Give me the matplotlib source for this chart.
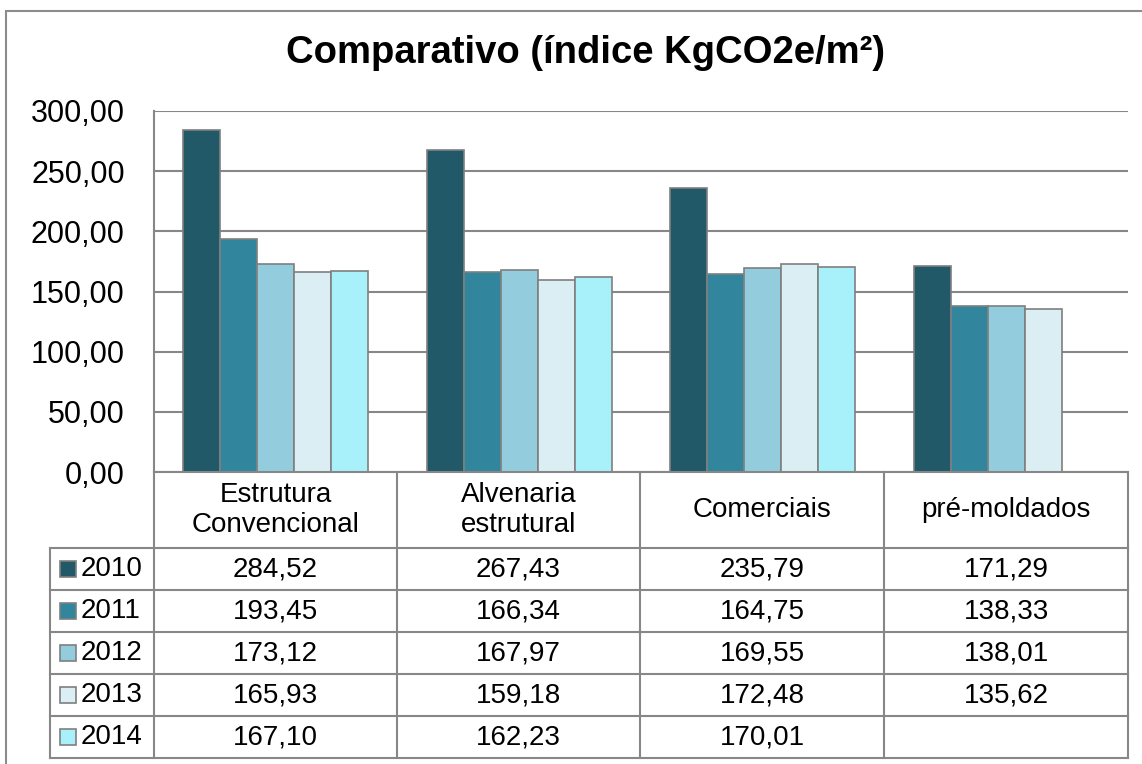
import numpy as np
import matplotlib
matplotlib.use("Agg")
import matplotlib.pyplot as plt
from matplotlib.lines import Line2D
from matplotlib.patches import Rectangle

# ---------------------------------------------------------------------------
# Donnees
# ---------------------------------------------------------------------------
categories = ["Estrutura\nConvencional", "Alvenaria\nestrutural", "Comerciais", "pré-moldados"]
years = ["2010", "2011", "2012", "2013", "2014"]
v2010 = [284.52, 267.43, 235.79, 171.29]
v2011 = [193.45, 166.34, 164.75, 138.33]
v2012 = [173.12, 167.97, 169.55, 138.01]
v2013 = [165.93, 159.18, 172.48, 135.62]
v2014 = [167.10, 162.23, 170.01, np.nan]
series = [v2010, v2011, v2012, v2013, v2014]
colors = ["#215968", "#31859C", "#93CDDD", "#DAEEF3", "#A9F1FA"]
yticks = [0, 50, 100, 150, 200, 250, 300]

W, H = 1142, 764
plt.rcParams["font.family"] = ["Liberation Sans", "DejaVu Sans"]

fig = plt.figure(figsize=(W / 100, H / 100), dpi=100)

def fx(x):
    return x / W

def fy(y):
    return 1 - y / H

GRID = "#878787"
EDGE = "#7F7F7F"

# cadre exterieur (seuls les bords gauche et haut sont visibles)
fig.add_artist(Rectangle((fx(6), fy(H + 20)), fx(W + 20), fy(11) - fy(H + 20),
                         transform=fig.transFigure, fill=False, ec="#8c8c8c", lw=1.5))

fig.text(fx(585), fy(53), "Comparativo (índice KgCO2e/m²)", ha="center", va="center",
         fontsize=27.5, fontweight="bold")

# ---------------------------------------------------------------------------
# Graphique
# ---------------------------------------------------------------------------
left, right, top, bottom = 154, 1128, 111, 472
ax = fig.add_axes([fx(left), fy(bottom), fx(right - left), fy(top) - fy(bottom)])
bw = 0.152
x = np.arange(len(categories))
for j, (vals, c) in enumerate(zip(series, colors)):
    vals = np.array(vals, dtype=float)
    ok = ~np.isnan(vals)
    ax.bar(x[ok] + (j - 2) * bw, vals[ok], width=bw, color=c, edgecolor=EDGE,
           linewidth=1.2, zorder=3)

ax.set_xlim(-0.5, len(categories) - 0.5)
ax.set_ylim(0, 300)
ax.set_yticks(yticks)
ax.set_yticklabels([f"{v:.2f}".replace(".", ",") for v in yticks], fontsize=22)
ax.tick_params(axis="y", length=0, pad=21)
ax.set_xticks([])
ax.yaxis.grid(True, color=GRID, lw=1.5, zorder=0)
for s in ["top", "right", "bottom"]:
    ax.spines[s].set_visible(False)
ax.spines["left"].set_color(GRID)
ax.spines["left"].set_linewidth(1.5)

# ---------------------------------------------------------------------------
# Tableau de donnees
# ---------------------------------------------------------------------------
col_x = [154, 397, 640, 884, 1128]
row_y = [472, 548, 590, 632, 674, 716, 758]
tab_left = 50

def hline(x0, x1, y):
    fig.add_artist(Line2D([fx(x0), fx(x1)], [fy(y), fy(y)], transform=fig.transFigure,
                          color=GRID, lw=1.5))

def vline(x, y0, y1):
    fig.add_artist(Line2D([fx(x), fx(x)], [fy(y0), fy(y1)], transform=fig.transFigure,
                          color=GRID, lw=1.5))

hline(col_x[0], col_x[-1], row_y[0])
for y in row_y[1:]:
    hline(tab_left, col_x[-1], y)
for xc in col_x:
    vline(xc, row_y[0], row_y[-1])
vline(tab_left, row_y[1], row_y[-1])

for i, cat in enumerate(categories):
    cx = (col_x[i] + col_x[i + 1]) / 2
    fig.text(fx(cx), fy((row_y[0] + row_y[1]) / 2), cat, ha="center", va="center",
             fontsize=20, linespacing=1.2)

for j, (yr, vals, c) in enumerate(zip(years, series, colors)):
    cy = (row_y[j + 1] + row_y[j + 2]) / 2
    fig.add_artist(Rectangle((fx(60), fy(cy + 8)), fx(16), fy(cy - 8) - fy(cy + 8),
                             transform=fig.transFigure, fc=c, ec=EDGE, lw=1.2))
    fig.text(fx(81), fy(cy), yr, ha="left", va="center", fontsize=20)
    for i, v in enumerate(vals):
        if np.isnan(v):
            continue
        cx = (col_x[i] + col_x[i + 1]) / 2
        fig.text(fx(cx), fy(cy), f"{v:.2f}".replace(".", ","), ha="center", va="center",
                 fontsize=20)

fig.savefig("out.png", dpi=100)
